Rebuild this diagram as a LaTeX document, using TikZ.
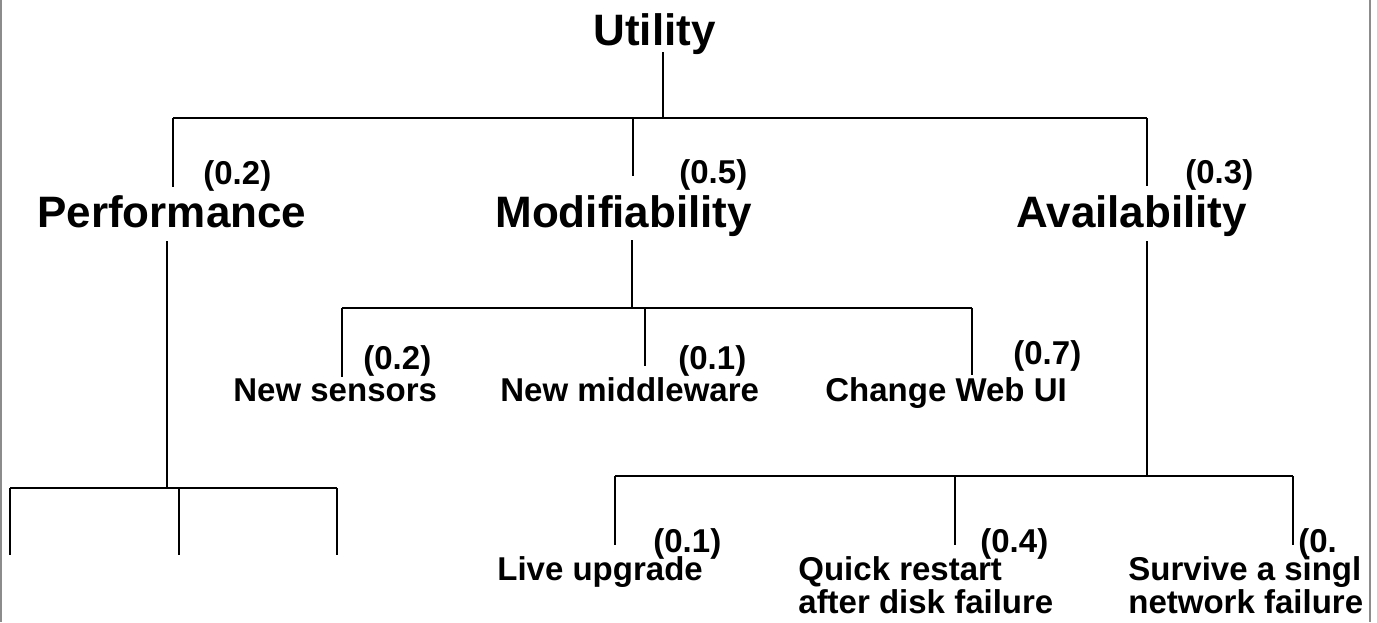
\documentclass[tikz,border=0pt]{standalone}
\usepackage{fontspec}
\setmainfont{Liberation Sans}
\begin{document}
\begin{tikzpicture}[x=0.5pt,y=-0.5pt,
  big/.style={font=\fontsize{22}{26}\selectfont\bfseries, inner sep=0pt, anchor=base west},
  small/.style={font=\fontsize{16.5}{18}\selectfont\bfseries, inner sep=0pt, anchor=base west},
  wire/.style={line width=1pt, black},
  frame/.style={line width=0.8pt, black!45}]
\useasboundingbox (0,0) rectangle (1377,622);

% side rules of the frame
\draw[frame] (0.8,0) -- (0.8,622);
\draw[frame] (1370,0) -- (1370,622);

\begin{scope}
\clip (0,0) rectangle (1369,622);
% root and quality attributes
\node[big] (util)  at (593,45)  {Utility};
\node[big] (perf)  at (37,227)  {Performance};
\node[big] (modi)  at (495,227) {Modifiability};
\node[big] (avail) at (1016,227) {Availability};
\node[small] (wP) at (203,184)  {(0.2)};
\node[small] (wM) at (679,183)  {(0.5)};
\node[small] (wA) at (1185,183) {(0.3)};
% modifiability scenarios
\node[small] (sens)  at (233,401) {New sensors};
\node[small] (mid)   at (500,401) {New middleware};
\node[small] (web)   at (825,401) {Change Web UI};
\node[small] (wSens) at (363,369) {(0.2)};
\node[small] (wMid)  at (678,369) {(0.1)};
\node[small] (wWeb)  at (1013,364) {(0.7)};
% availability scenarios
\node[small] (live)   at (497,580) {Live upgrade};
\node[small] (quick)  at (798,580) {Quick restart};
\node[small] (quickb) at (798,613) {after disk failure};
\node[small] (surv)   at (1128,580) {Survive a singl};
\node[small] (survb)  at (1128,613) {network failure};
\node[small] (wLive)  at (653,552) {(0.1)};
\node[small] (wQuick) at (980,552) {(0.4)};
\node[small] (wSurv)  at (1298,552) {(0.};
\end{scope}

% junction points of the tree
\coordinate (uOut) at (663,52);
\coordinate (uJ)   at (663,118);
\coordinate (tL)   at (173,118);
\coordinate (tM)   at (633,118);
\coordinate (tR)   at (1147,118);
\coordinate (pIn)  at (173,187);
\coordinate (mIn)  at (633,176);
\coordinate (aIn)  at (1147,186);

\coordinate (pOut) at (167,241);
\coordinate (pJ)   at (167,488);
\coordinate (pL)   at (10,488);
\coordinate (pC)   at (179,488);
\coordinate (pR)   at (337,488);
\coordinate (pLe)  at (10,555);
\coordinate (pCe)  at (179,555);
\coordinate (pRe)  at (337,555);

\coordinate (mOut) at (632,240);
\coordinate (mJ)   at (632,308);
\coordinate (mL)   at (342,308);
\coordinate (mC)   at (645,308);
\coordinate (mR)   at (972,308);
\coordinate (sensIn) at (342,377);
\coordinate (midIn)  at (645,366);
\coordinate (webIn)  at (972,375);

\coordinate (aOut) at (1147,241);
\coordinate (aJ)   at (1147,476);
\coordinate (aL)   at (615,476);
\coordinate (aC)   at (955,476);
\coordinate (aR)   at (1293,476);
\coordinate (liveIn)  at (615,545);
\coordinate (quickIn) at (955,545);
\coordinate (survIn)  at (1293,545);

% root level
\draw[wire] (uOut) -- (uJ);
\draw[wire] (tL) -- (tR);
\draw[wire] (tL) -- (pIn);
\draw[wire] (tM) -- (mIn);
\draw[wire] (tR) -- (aIn);
% performance branch
\draw[wire] (pOut) -- (pJ);
\draw[wire] (pL) -- (pR);
\draw[wire] (pL) -- (pLe);
\draw[wire] (pC) -- (pCe);
\draw[wire] (pR) -- (pRe);
% modifiability branch
\draw[wire] (mOut) -- (mJ);
\draw[wire] (mL) -- (mR);
\draw[wire] (mL) -- (sensIn);
\draw[wire] (mC) -- (midIn);
\draw[wire] (mR) -- (webIn);
% availability branch
\draw[wire] (aOut) -- (aJ);
\draw[wire] (aL) -- (aR);
\draw[wire] (aL) -- (liveIn);
\draw[wire] (aC) -- (quickIn);
\draw[wire] (aR) -- (survIn);
\end{tikzpicture}
\end{document}
